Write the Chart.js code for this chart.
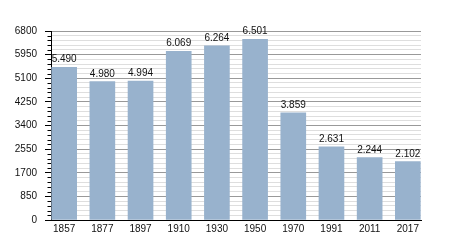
<!DOCTYPE html>
<html>
<head>
<meta charset="utf-8">
<script src="https://cdn.jsdelivr.net/npm/chart.js@4/dist/chart.umd.min.js"></script>
<style>
  html, body { margin: 0; padding: 0; background: #fff; }
  #wrap { width: 450px; height: 250px; }
</style>
</head>
<body>
<div id="wrap"><canvas id="popChart" width="450" height="250"></canvas></div>
<script>
// Jahre und Einwohnerzahlen
const years = ['1857', '1877', '1897', '1910', '1930', '1950', '1970', '1991', '2011', '2017'];
const population = [5490, 4980, 4994, 6069, 6264, 6501, 3859, 2631, 2244, 2102];

// Achsenbeschriftung links
const yMajorTicks = [0, 850, 1700, 2550, 3400, 4250, 5100, 5950, 6800];
const yMinorStep = 170;

const barColor = '#98b2cd';
const textColor = '#111';
const fontFamily = '"Liberation Sans", Arial, sans-serif';

// Zahlen mit Punkt als Tausendertrenner
const formatNumber = (num) =>
  num.toString().replace(/\B(?=(\d{3})+(?!\d))/g, ".");

const isMajor = (v) => v % 850 === 0;

// Werte über den Balken
const valueLabels = {
  id: 'valueLabels',
  afterDatasetsDraw(chart) {
    const ctx = chart.ctx;
    const meta = chart.getDatasetMeta(0);
    ctx.save();
    ctx.font = '10px ' + fontFamily;
    ctx.fillStyle = textColor;
    ctx.textAlign = 'center';
    ctx.textBaseline = 'alphabetic';
    meta.data.forEach((bar, i) => {
      ctx.fillText(formatNumber(population[i]), bar.x, bar.y - 5);
    });
    ctx.restore();
  }
};

// kurze Striche für die Zwischenwerte
const minorTicks = {
  id: 'minorTicks',
  afterDraw(chart) {
    const y = chart.scales.y;
    const ctx = chart.ctx;
    const left = chart.chartArea.left;
    ctx.save();
    ctx.strokeStyle = '#000';
    ctx.lineWidth = 1;
    ctx.beginPath();
    y.ticks.forEach(t => {
      if (isMajor(t.value)) return;
      const py = Math.round(y.getPixelForValue(t.value)) + 0.5;
      ctx.moveTo(left - 3.5, py);
      ctx.lineTo(left, py);
    });
    ctx.stroke();
    ctx.restore();
  }
};

const ctx = document.getElementById('popChart').getContext('2d');
new Chart(ctx, {
  type: 'bar',
  data: {
    datasets: [{
      data: population.map((v, i) => ({ x: i, y: v })),
      backgroundColor: barColor,
      borderWidth: 0,
      barThickness: 25
    }]
  },
  options: {
    responsive: false,
    animation: false,
    events: [],
    layout: { padding: { top: 31, right: 29, bottom: 0, left: 0 } },
    plugins: {
      legend: { display: false },
      tooltip: { enabled: false }
    },
    scales: {
      x: {
        type: 'linear',
        offset: false,
        min: -0.345,
        max: years.length - 1 + 0.345,
        afterBuildTicks: axis => { axis.ticks = years.map((_, i) => ({ value: i })); },
        afterFit: scale => { scale.height = 30; },
        grid: { display: false, drawTicks: false, offset: false },
        border: { display: true, color: '#000', width: 1 },
        ticks: {
          autoSkip: false,
          maxRotation: 0,
          padding: 3,
          color: textColor,
          font: { family: fontFamily, size: 10 },
          callback: v => years[v]
        }
      },
      y: {
        min: 0,
        max: 6800,
        afterBuildTicks: axis => {
          const ticks = [];
          for (let v = 0; v <= yMajorTicks[yMajorTicks.length - 1]; v += yMinorStep) ticks.push({ value: v });
          axis.ticks = ticks;
        },
        afterFit: scale => { scale.width = 51; },
        grid: {
          color: c => isMajor(c.tick.value) ? '#999' : '#dedede',
          lineWidth: 1,
          drawTicks: true,
          tickLength: 6,
          tickColor: c => isMajor(c.tick.value) ? '#000' : 'rgba(0,0,0,0)'
        },
        border: { display: true, color: '#000', width: 1 },
        ticks: {
          autoSkip: false,
          padding: 8,
          color: textColor,
          font: { family: fontFamily, size: 10 },
          callback: v => yMajorTicks.includes(v) ? String(v) : ''
        }
      }
    }
  },
  plugins: [valueLabels, minorTicks]
});
</script>
</body>
</html>
